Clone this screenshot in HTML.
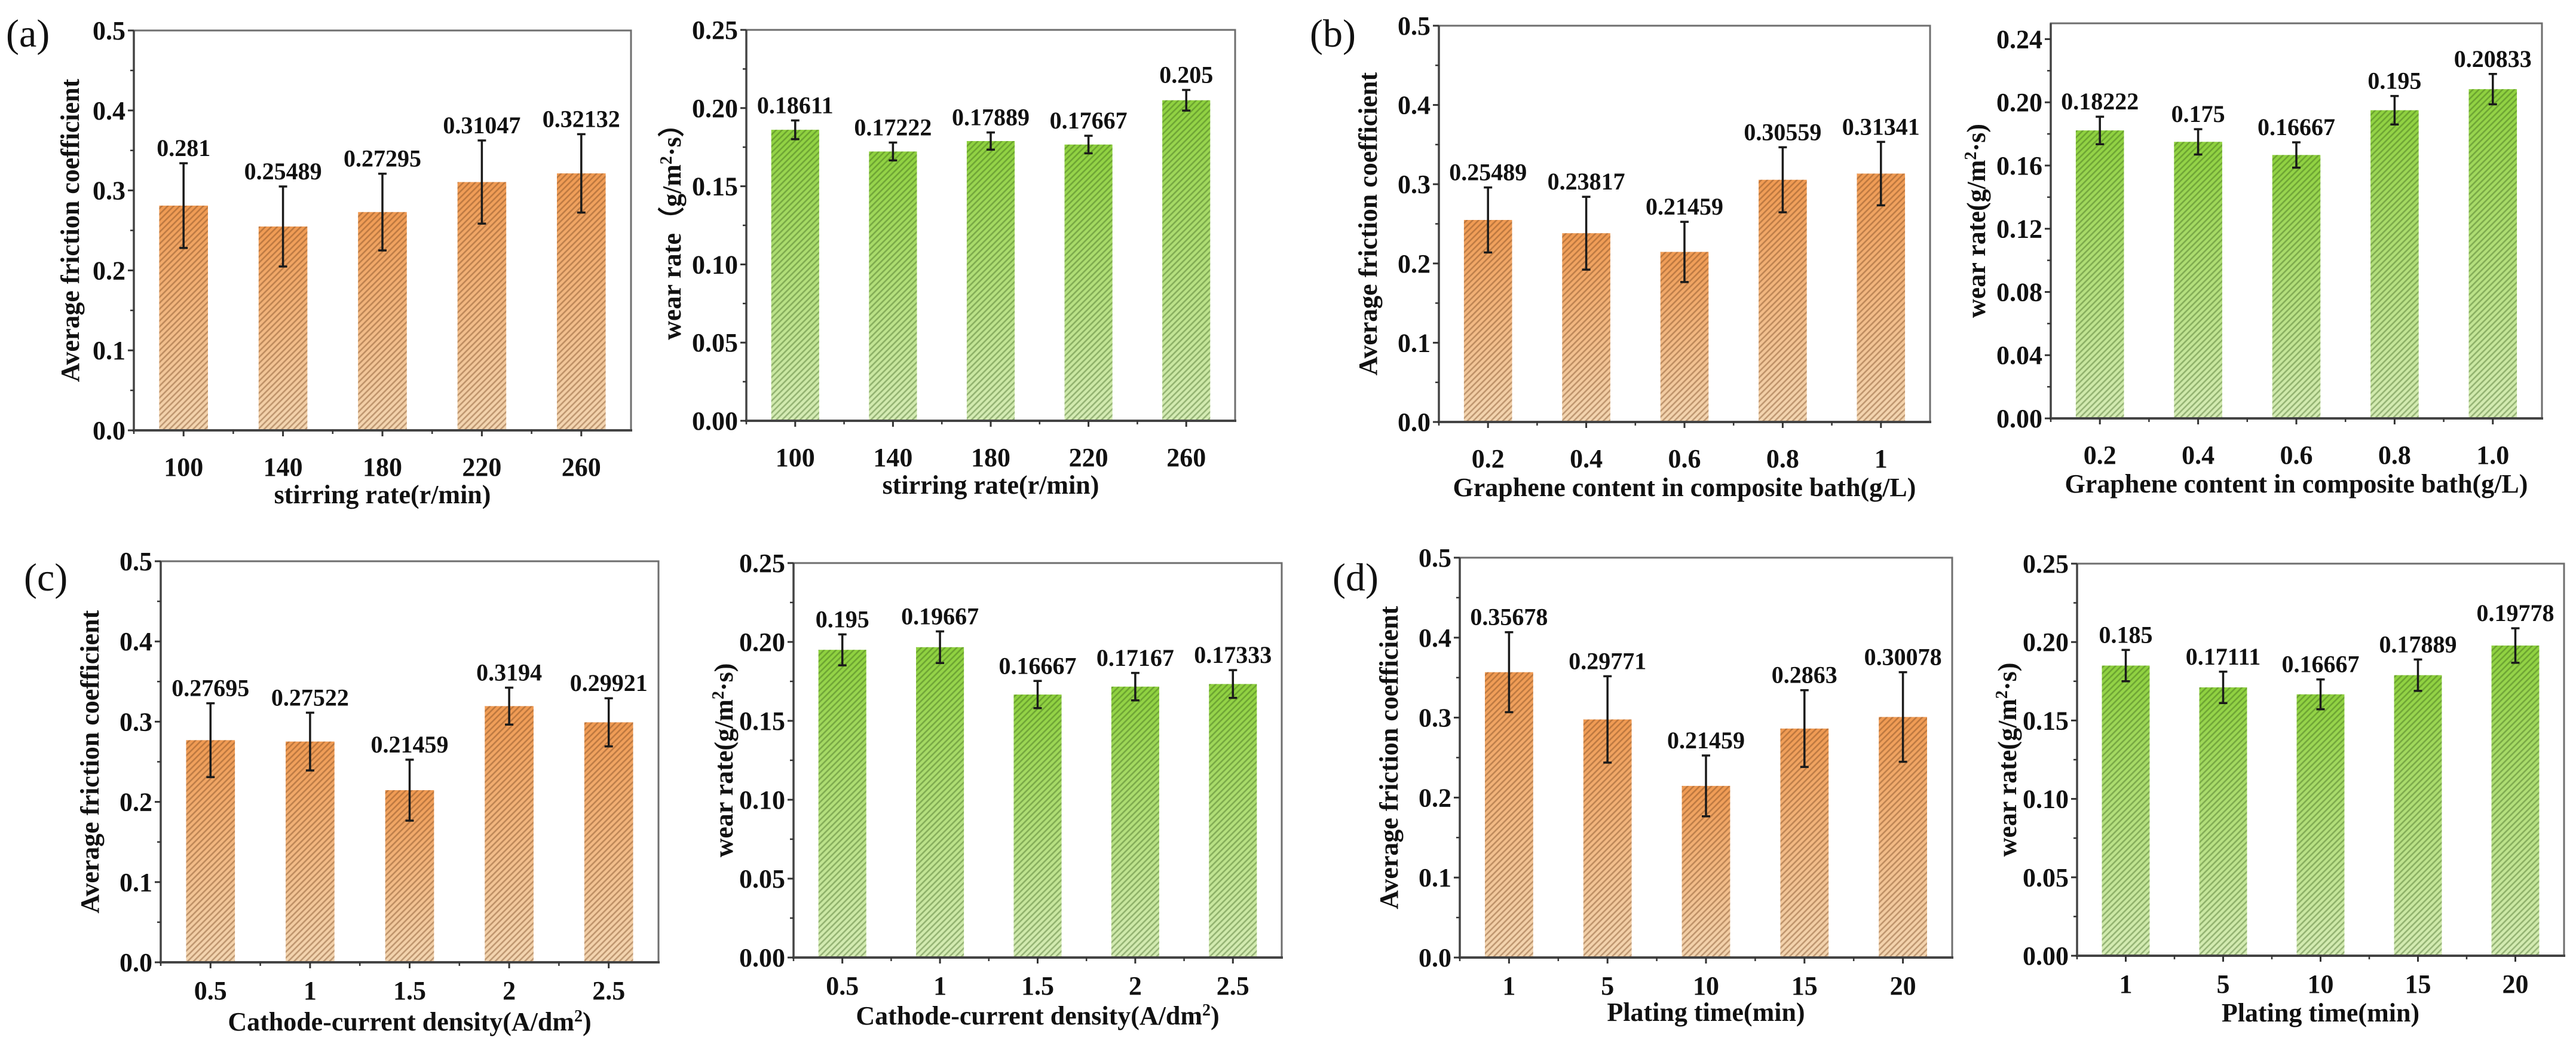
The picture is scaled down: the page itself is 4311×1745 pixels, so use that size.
<!DOCTYPE html>
<html><head><meta charset="utf-8"><style>
html,body{margin:0;padding:0;background:#fff;}
svg{display:block;font-family:"Liberation Serif",serif;}
</style></head><body>
<svg id="fig" width="4311" height="1745" viewBox="0 0 4311 1745" xmlns="http://www.w3.org/2000/svg">
<defs>
<linearGradient id="gOrange" x1="0" y1="0" x2="0" y2="1"><stop offset="0" stop-color="#f09a52"/><stop offset="1" stop-color="#f3d6b2"/></linearGradient>
<linearGradient id="gGreen" x1="0" y1="0" x2="0" y2="1"><stop offset="0" stop-color="#8ed13e"/><stop offset="1" stop-color="#d6ecb6"/></linearGradient>
<pattern id="hatchO" patternUnits="userSpaceOnUse" width="7" height="7" patternTransform="rotate(45)"><rect x="0" y="0" width="2.6" height="7" fill="rgba(120,70,30,0.42)"/></pattern>
<pattern id="hatchG" patternUnits="userSpaceOnUse" width="7" height="7" patternTransform="rotate(45)"><rect x="0" y="0" width="2.6" height="7" fill="rgba(50,90,20,0.38)"/></pattern>
</defs>
<text x="10" y="78" font-size="66" fill="#111">(a)</text>
<text x="2192" y="78" font-size="66" fill="#111">(b)</text>
<text x="40" y="988" font-size="66" fill="#111">(c)</text>
<text x="2230" y="988" font-size="66" fill="#111">(d)</text>
</svg>
<script>
// ---- data ----
const aCats = ["100","140","180","220","260"];
const aFric = [0.281,0.25489,0.27295,0.31047,0.32132];
const aFricErr = [0.053,0.05,0.048,0.052,0.049];
const aFricLbl = ["0.281","0.25489","0.27295","0.31047","0.32132"];
const aWear = [0.18611,0.17222,0.17889,0.17667,0.205];
const aWearErr = [0.006,0.0057,0.0055,0.0056,0.0066];
const aWearLbl = ["0.18611","0.17222","0.17889","0.17667","0.205"];

const bCatsL = ["0.2","0.4","0.6","0.8","1"];
const bCatsR = ["0.2","0.4","0.6","0.8","1.0"];
const bFric = [0.25489,0.23817,0.21459,0.30559,0.31341];
const bFricErr = [0.041,0.046,0.038,0.041,0.04];
const bFricLbl = ["0.25489","0.23817","0.21459","0.30559","0.31341"];
const bWear = [0.18222,0.175,0.16667,0.195,0.20833];
const bWearErr = [0.0087,0.008,0.008,0.009,0.0096];
const bWearLbl = ["0.18222","0.175","0.16667","0.195","0.20833"];

const cCats = ["0.5","1","1.5","2","2.5"];
const cFric = [0.27695,0.27522,0.21459,0.3194,0.29921];
const cFricErr = [0.046,0.036,0.038,0.023,0.03];
const cFricLbl = ["0.27695","0.27522","0.21459","0.3194","0.29921"];
const cWear = [0.195,0.19667,0.16667,0.17167,0.17333];
const cWearErr = [0.0098,0.01,0.0086,0.0087,0.0088];
const cWearLbl = ["0.195","0.19667","0.16667","0.17167","0.17333"];

const dCats = ["1","5","10","15","20"];
const dFric = [0.35678,0.29771,0.21459,0.2863,0.30078];
const dFricErr = [0.05,0.054,0.038,0.048,0.056];
const dFricLbl = ["0.35678","0.29771","0.21459","0.2863","0.30078"];
const dWear = [0.185,0.17111,0.16667,0.17889,0.19778];
const dWearErr = [0.01,0.01,0.0095,0.01,0.011];
const dWearLbl = ["0.185","0.17111","0.16667","0.17889","0.19778"];

const fricTicks = [0,0.1,0.2,0.3,0.4,0.5];
const fricTickLbl = ["0.0","0.1","0.2","0.3","0.4","0.5"];
const wearTicks = [0,0.05,0.10,0.15,0.20,0.25];
const wearTickLbl = ["0.00","0.05","0.10","0.15","0.20","0.25"];
const wearTicksB = [0,0.04,0.08,0.12,0.16,0.20,0.24];
const wearTickLblB = ["0.00","0.04","0.08","0.12","0.16","0.20","0.24"];

const NS = "http://www.w3.org/2000/svg";
const svg = document.getElementById('fig');
function mk(tag, attrs, parent, txt){
  const e = document.createElementNS(NS, tag);
  for (const k in attrs) e.setAttribute(k, attrs[k]);
  if (txt !== undefined) e.textContent = txt;
  (parent||svg).appendChild(e);
  return e;
}
function panel(p){
  const g = mk('g', {});
  
  
  const W = p.x1 - p.x0, H = p.y1 - p.y0;
  const slot = W / p.cats.length;
  const xc = i => p.x0 + (i + 0.5) * slot;
  const yv = v => p.y1 - v / p.max * H;
  const bw = slot * 0.49;
  p.vals.forEach((v, i) => {
    const x = xc(i) - bw/2, y = yv(v), h = p.y1 - yv(v);
    const r = mk('rect', {x:x, y:y, width:bw, height:h, fill:p.grad}, g);
    
    
    mk('rect', {x:x, y:y, width:bw, height:h, fill:p.hatch}, g);
  });
  p.vals.forEach((v, i) => {
    const e = p.errs[i], cx = xc(i);
    const t = yv(v + e), b = yv(v - e);
    const eb = mk('path', {d:`M${cx},${t}V${b}M${cx-7},${t}H${cx+7}M${cx-7},${b}H${cx+7}`, stroke:'#1a1a1a', 'stroke-width':3.5, fill:'none'}, g);
    
    
    const lb = mk('text', {x:cx, y:t - 12, 'font-size':40, 'font-weight':'bold', 'text-anchor':'middle', fill:'#111'}, g, p.lbls[i]);
    
    
  });
  const fr = mk('rect', {x:p.x0, y:p.y0, width:W, height:H, fill:'none', stroke:'#6e6e6e', 'stroke-width':3}, g);
  
  
  mk('line', {x1:p.x0-2, y1:p.y1, x2:p.x1+2, y2:p.y1, stroke:'#444', 'stroke-width':4}, g);
  mk('line', {x1:p.x0, y1:p.y0, x2:p.x0, y2:p.y1, stroke:'#444', 'stroke-width':3.5}, g);
  p.ticks.forEach((t, i) => {
    const y = yv(t);
    mk('line', {x1:p.x0-10, y1:y, x2:p.x0, y2:y, stroke:'#333', 'stroke-width':3}, g);
    const tl = mk('text', {x:p.x0-14, y:y+15, 'font-size':44, 'font-weight':'bold', 'text-anchor':'end', fill:'#111'}, g, p.tickLbl[i]);
    
    
    if (i < p.ticks.length - 1) {
      const ym = yv((t + p.ticks[i+1]) / 2);
      mk('line', {x1:p.x0-6, y1:ym, x2:p.x0, y2:ym, stroke:'#333', 'stroke-width':2.5}, g);
    }
  });
  p.cats.forEach((c, i) => {
    const x = xc(i);
    mk('line', {x1:x, y1:p.y1, x2:x, y2:p.y1+10, stroke:'#333', 'stroke-width':3}, g);
    mk('line', {x1:p.x0+i*slot, y1:p.y1, x2:p.x0+i*slot, y2:p.y1+6, stroke:'#333', 'stroke-width':2.5}, g);
    const xl = mk('text', {x:x, y:p.y1+p.xlOff, 'font-size':44, 'font-weight':'bold', 'text-anchor':'middle', fill:'#111'}, g, c);
    
    
  });
  const xt = mk('text', {x:(p.x0+p.x1)/2, y:p.y1+p.xtOff, 'font-size':44, 'font-weight':'bold', 'text-anchor':'middle', fill:'#111'}, g);
  
  
  p.xtitle.forEach(s => { mk('tspan', s.sup ? {'baseline-shift':'super','font-size':28} : {}, xt, s.t); });
  const ytx = p.x0 - p.ytOff, yty = (p.y0 + p.y1) / 2;
  const yt = mk('text', {x:ytx, y:yty, 'font-size':44, 'font-weight':'bold', 'text-anchor':'middle', fill:'#111', transform:`rotate(-90 ${ytx} ${yty})`}, g);
  
  
  p.ytitle.forEach(s => { mk('tspan', s.sup ? {'baseline-shift':'super','font-size':28} : {}, yt, s.t); });
}
const fricT = [{t:'Average friction coefficient'}];
const wearT = [{t:'wear rate(g/m'},{t:'2',sup:1},{t:'·s)'}];
const wearTa = [{t:'wear rate（g/m'},{t:'2',sup:1},{t:'·s）'}];
panel({name:'panel-a-friction', x0:224,x1:1056,y0:51,y1:720,max:0.5,cats:aCats,vals:aFric,errs:aFricErr,lbls:aFricLbl,ticks:fricTicks,tickLbl:fricTickLbl,grad:'url(#gOrange)',hatch:'url(#hatchO)',xtitle:[{t:'stirring rate(r/min)'}],xlOff:76,xtOff:122,ytitle:fricT,ytOff:92});
panel({name:'panel-a-wear', x0:1249,x1:2067,y0:50,y1:704,max:0.25,cats:aCats,vals:aWear,errs:aWearErr,lbls:aWearLbl,ticks:wearTicks,tickLbl:wearTickLbl,grad:'url(#gGreen)',hatch:'url(#hatchG)',xtitle:[{t:'stirring rate(r/min)'}],xlOff:76,xtOff:122,ytitle:wearTa,ytOff:110});
panel({name:'panel-b-friction', x0:2408,x1:3230,y0:43,y1:706,max:0.5,cats:bCatsL,vals:bFric,errs:bFricErr,lbls:bFricLbl,ticks:fricTicks,tickLbl:fricTickLbl,grad:'url(#gOrange)',hatch:'url(#hatchO)',xtitle:[{t:'Graphene content in composite bath(g/L)'}],xlOff:76,xtOff:124,ytitle:fricT,ytOff:104});
panel({name:'panel-b-wear', x0:3432,x1:4254,y0:39,y1:700,max:0.25,cats:bCatsR,vals:bWear,errs:bWearErr,lbls:bWearLbl,ticks:wearTicksB,tickLbl:wearTickLblB,grad:'url(#gGreen)',hatch:'url(#hatchG)',xtitle:[{t:'Graphene content in composite bath(g/L)'}],xlOff:76,xtOff:124,ytitle:wearT,ytOff:110});
panel({name:'panel-c-friction', x0:269,x1:1102,y0:939,y1:1610,max:0.5,cats:cCats,vals:cFric,errs:cFricErr,lbls:cFricLbl,ticks:fricTicks,tickLbl:fricTickLbl,grad:'url(#gOrange)',hatch:'url(#hatchO)',xtitle:[{t:'Cathode-current density(A/dm'},{t:'2',sup:1},{t:')'}],xlOff:62,xtOff:114,ytitle:fricT,ytOff:104});
panel({name:'panel-c-wear', x0:1328,x1:2145,y0:942,y1:1602,max:0.25,cats:cCats,vals:cWear,errs:cWearErr,lbls:cWearLbl,ticks:wearTicks,tickLbl:wearTickLbl,grad:'url(#gGreen)',hatch:'url(#hatchG)',xtitle:[{t:'Cathode-current density(A/dm'},{t:'2',sup:1},{t:')'}],xlOff:62,xtOff:112,ytitle:wearT,ytOff:102});
panel({name:'panel-d-friction', x0:2443,x1:3267,y0:933,y1:1602,max:0.5,cats:dCats,vals:dFric,errs:dFricErr,lbls:dFricLbl,ticks:fricTicks,tickLbl:fricTickLbl,grad:'url(#gOrange)',hatch:'url(#hatchO)',xtitle:[{t:'Plating time(min)'}],xlOff:62,xtOff:106,ytitle:fricT,ytOff:104});
panel({name:'panel-d-wear', x0:3476,x1:4291,y0:943,y1:1599,max:0.25,cats:dCats,vals:dWear,errs:dWearErr,lbls:dWearLbl,ticks:wearTicks,tickLbl:wearTickLbl,grad:'url(#gGreen)',hatch:'url(#hatchG)',xtitle:[{t:'Plating time(min)'}],xlOff:62,xtOff:110,ytitle:wearT,ytOff:102});
</script>
</body></html>
